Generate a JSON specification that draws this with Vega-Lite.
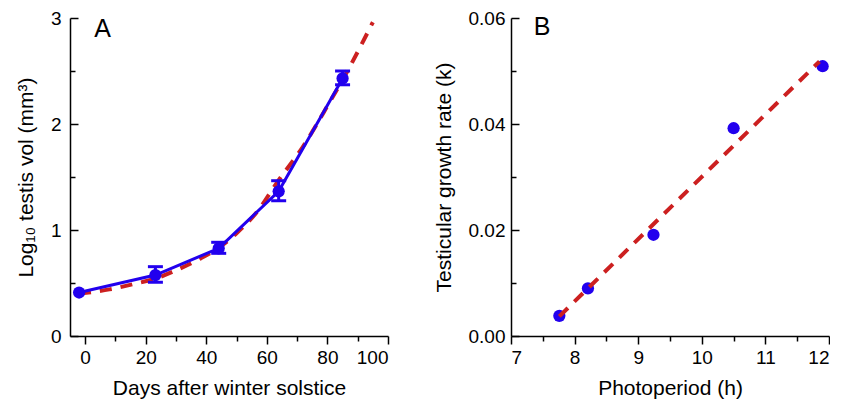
{
  "$schema": "https://vega.github.io/schema/vega-lite/v6.json",
  "background": "white",
  "padding": {"left": 15, "top": 9, "right": 0, "bottom": 2},
  "config": {
    "view": {"stroke": null},
    "font": "Liberation Sans",
    "axis": {
      "grid": false,
      "domainColor": "black",
      "domainWidth": 1.5,
      "tickColor": "black",
      "tickWidth": 1.5,
      "labelColor": "black",
      "labelFontSize": 19,
      "labelFont": "Liberation Sans",
      "titleFont": "Liberation Sans",
      "titleFontSize": 21,
      "titleFontWeight": "normal",
      "titleColor": "black"
    }
  },
  "datasets": {
    "obs": [
      {"day": -2, "logvol": 0.41},
      {"day": 23.2, "logvol": 0.575},
      {"day": 44.1, "logvol": 0.827},
      {"day": 63.9, "logvol": 1.365},
      {"day": 85.0, "logvol": 2.43}
    ],
    "err": [
      {"day": 23.2, "lo": 0.507, "hi": 0.654},
      {"day": 44.1, "lo": 0.78, "hi": 0.884},
      {"day": 63.9, "lo": 1.276, "hi": 1.465},
      {"day": 85.0, "lo": 2.37, "hi": 2.50}
    ],
    "fitA": [
      {"day": -2, "logvol": 0.40},
      {"day": 8, "logvol": 0.44},
      {"day": 16, "logvol": 0.49},
      {"day": 23, "logvol": 0.54},
      {"day": 30, "logvol": 0.62},
      {"day": 38, "logvol": 0.73},
      {"day": 44, "logvol": 0.83},
      {"day": 50, "logvol": 0.97},
      {"day": 57, "logvol": 1.18},
      {"day": 63.4, "logvol": 1.45},
      {"day": 72, "logvol": 1.79},
      {"day": 80, "logvol": 2.17},
      {"day": 87, "logvol": 2.52},
      {"day": 95, "logvol": 2.96}
    ],
    "rate": [
      {"photo": 7.76, "k": 0.0038},
      {"photo": 8.21, "k": 0.0090},
      {"photo": 9.24, "k": 0.0191},
      {"photo": 10.50, "k": 0.0392},
      {"photo": 11.90, "k": 0.0509}
    ],
    "fitB": [
      {"photo": 7.76, "k": 0.0037},
      {"photo": 11.85, "k": 0.0518}
    ],
    "labA": [{"x": 5.8, "y": 2.82, "t": "A"}],
    "labB": [{"x": 7.49, "y": 0.0567, "t": "B"}]
  },
  "spacing": 44,
  "hconcat": [
    {
      "width": 318,
      "height": 318,
      "encoding": {
        "x": {
          "field": "day", "type": "quantitative",
          "scale": {"domain": [-5, 100], "nice": false, "zero": false},
          "axis": {
            "title": "Days after winter solstice",
            "values": [0, 10, 20, 30, 40, 50, 60, 70, 80, 90, 100],
            "labelExpr": "datum.value % 20 == 0 ? format(datum.value, 'd') : ''",
            "tickSize": {"condition": {"test": "datum.value % 20 == 0", "value": 8}, "value": 5},
            "labelPadding": 4,
            "titlePadding": 10
          }
        },
        "y": {
          "field": "logvol", "type": "quantitative",
          "scale": {"domain": [0, 3], "nice": false},
          "axis": {
            "title": "Log₁₀ testis vol (mm³)",
            "values": [0, 0.5, 1, 1.5, 2, 2.5, 3],
            "labelExpr": "datum.value % 1 == 0 ? format(datum.value, 'd') : ''",
            "tickSize": {"condition": {"test": "datum.value % 1 == 0", "value": -8}, "value": -5},
            "labelPadding": 17,
            "titlePadding": 14
          }
        }
      },
      "layer": [
        {
          "data": {"name": "fitA"},
          "mark": {"type": "line", "color": "#CC2020", "strokeWidth": 4, "strokeDash": [12, 9], "interpolate": "monotone", "clip": true}
        },
        {
          "data": {"name": "err"},
          "mark": {"type": "rule", "color": "#2200EE", "strokeWidth": 3, "opacity": 1},
          "encoding": {"y": {"field": "lo", "type": "quantitative"}, "y2": {"field": "hi"}}
        },
        {
          "data": {"name": "err"},
          "mark": {"type": "tick", "orient": "horizontal", "color": "#2200EE", "size": 15, "thickness": 3, "opacity": 1},
          "encoding": {"y": {"field": "lo", "type": "quantitative"}}
        },
        {
          "data": {"name": "err"},
          "mark": {"type": "tick", "orient": "horizontal", "color": "#2200EE", "size": 15, "thickness": 3, "opacity": 1},
          "encoding": {"y": {"field": "hi", "type": "quantitative"}}
        },
        {
          "data": {"name": "obs"},
          "mark": {"type": "line", "color": "#2200EE", "strokeWidth": 3}
        },
        {
          "data": {"name": "obs"},
          "mark": {"type": "point", "filled": true, "opacity": 1, "color": "#2200EE", "size": 150}
        },
        {
          "data": {"name": "labA"},
          "mark": {"type": "text", "fontSize": 25, "color": "black", "align": "center", "baseline": "alphabetic"},
          "encoding": {
            "x": {"field": "x", "type": "quantitative"},
            "y": {"field": "y", "type": "quantitative"},
            "text": {"field": "t"}
          }
        }
      ]
    },
    {
      "width": 318,
      "height": 318,
      "encoding": {
        "x": {
          "field": "photo", "type": "quantitative",
          "scale": {"domain": [7, 12], "nice": false, "zero": false},
          "axis": {
            "title": "Photoperiod (h)",
            "values": [7, 7.5, 8, 8.5, 9, 9.5, 10, 10.5, 11, 11.5, 12],
            "labelExpr": "datum.value % 1 == 0 ? format(datum.value, 'd') : ''",
            "tickSize": {"condition": {"test": "datum.value % 1 == 0", "value": 8}, "value": 5},
            "labelPadding": 4,
            "titlePadding": 10
          }
        },
        "y": {
          "field": "k", "type": "quantitative",
          "scale": {"domain": [0, 0.06], "nice": false},
          "axis": {
            "title": "Testicular growth rate (k)",
            "values": [0, 0.01, 0.02, 0.03, 0.04, 0.05, 0.06],
            "labelExpr": "round(datum.value * 100) % 2 == 0 ? format(datum.value, '.2f') : ''",
            "tickSize": {"condition": {"test": "round(datum.value * 100) % 2 == 0", "value": -8}, "value": -5},
            "labelPadding": 14,
            "titlePadding": 14
          }
        }
      },
      "layer": [
        {
          "data": {"name": "rate"},
          "mark": {"type": "point", "filled": true, "opacity": 1, "color": "#2200EE", "size": 150}
        },
        {
          "data": {"name": "fitB"},
          "mark": {"type": "line", "color": "#CC2020", "strokeWidth": 4, "strokeDash": [12, 9]}
        },
        {
          "data": {"name": "labB"},
          "mark": {"type": "text", "fontSize": 25, "color": "black", "align": "center", "baseline": "alphabetic"},
          "encoding": {
            "x": {"field": "x", "type": "quantitative"},
            "y": {"field": "y", "type": "quantitative"},
            "text": {"field": "t"}
          }
        }
      ]
    }
  ]
}
